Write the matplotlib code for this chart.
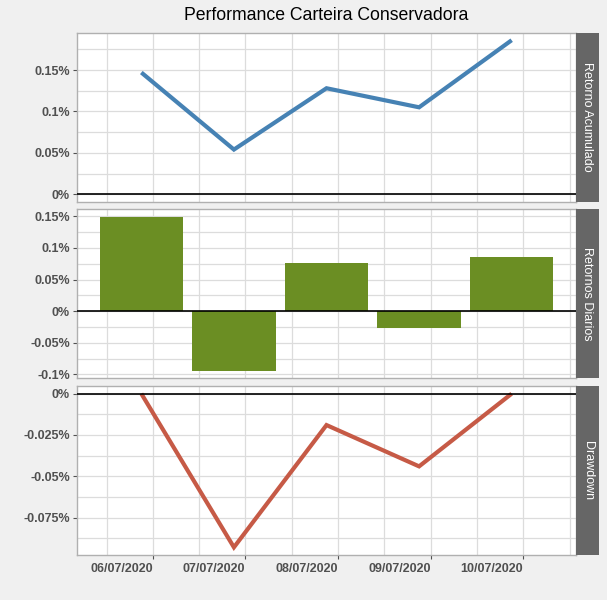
import matplotlib
matplotlib.use("Agg")
import matplotlib.pyplot as plt
import matplotlib.dates as mdates
from matplotlib.ticker import MultipleLocator, FuncFormatter
from datetime import datetime, timedelta

# ---- data ----
dates = ["2020-07-05 21:00", "2020-07-06 21:00", "2020-07-07 21:00",
         "2020-07-08 21:00", "2020-07-09 21:00"]
tick_dates = ["2020-07-06", "2020-07-07", "2020-07-08", "2020-07-09", "2020-07-10"]
tick_labels = ["06/07/2020", "07/07/2020", "08/07/2020", "09/07/2020", "10/07/2020"]
retorno_acumulado = [0.147, 0.054, 0.128, 0.105, 0.186]
retornos_diarios = [0.149, -0.094, 0.077, -0.026, 0.085]
drawdown = [0.0, -0.093, -0.019, -0.044, 0.0]
panel_names = ["Retorno Acumulado", "Retornos Diarios", "Drawdown"]
title = "Performance Carteira Conservadora"

plt.rcParams['font.family'] = ['Liberation Sans', 'DejaVu Sans']

W, H = 607, 600
fig = plt.figure(figsize=(W / 100, H / 100), dpi=100, facecolor="#F0F0F0")

x = [mdates.date2num(datetime.strptime(d, "%Y-%m-%d %H:%M")) for d in dates]
xt = [mdates.date2num(datetime.strptime(d, "%Y-%m-%d")) for d in tick_dates]
bar_w = 0.9
lo, hi = min(x) - bar_w / 2, max(x) + bar_w / 2
pad = 0.05 * (hi - lo)
xlim = (lo - pad, hi + pad)

left, right = 77, 576
strip_w = 23
panels_px = [(32.5, 202), (209.3, 378.3), (386, 555)]

grid_c = "#DCDCDC"
border_c = "#B0B0B0"
tick_c = "#505050"

def fmt(v, pos):
    s = f"{round(v, 4):g}"
    if s == "-0":
        s = "0"
    return s + "%"

axes = []
for i, (t, b) in enumerate(panels_px):
    ax = fig.add_axes([left / W, 1 - b / H, (right - left) / W, (b - t) / H])
    ax.set_facecolor("white")
    axes.append(ax)
    # strip
    sax = fig.add_axes([right / W, 1 - b / H, strip_w / W, (b - t) / H])
    sax.set_facecolor("#666666")
    sax.set_xticks([]); sax.set_yticks([])
    for s in sax.spines.values():
        s.set_visible(False)
    sax.text(0.5, 0.5, panel_names[i], rotation=-90, color="white",
             ha="center", va="center", fontsize=9, transform=sax.transAxes)

data = [retorno_acumulado, retornos_diarios, drawdown]
steps = [0.05, 0.05, 0.025]
for i, ax in enumerate(axes):
    vals = data[i]
    if i == 0:
        ax.plot(x, vals, color="#4682B4", lw=3.0, solid_capstyle="butt",
                solid_joinstyle="miter", zorder=3)
    elif i == 1:
        ax.bar(x, vals, width=bar_w, color="#6B8E23", zorder=2)
    else:
        ax.plot(x, vals, color="#C65A46", lw=3.0, solid_capstyle="butt",
                solid_joinstyle="miter", zorder=3)
    ax.axhline(0, color="black", lw=1.2, zorder=4)
    vmin, vmax = min(min(vals), 0), max(max(vals), 0)
    p = 0.05 * (vmax - vmin)
    ax.set_ylim(vmin - p, vmax + p)
    ax.set_xlim(*xlim)
    ax.yaxis.set_major_locator(MultipleLocator(steps[i]))
    ax.yaxis.set_minor_locator(MultipleLocator(steps[i] / 2))
    ax.yaxis.set_major_formatter(FuncFormatter(fmt))
    ax.set_xticks(xt)
    ax.set_xticks([v + 0.5 for v in [xt[0] - 1] + xt], minor=True)
    ax.grid(True, which="both", color=grid_c, lw=0.9, zorder=0)
    ax.set_axisbelow(True)
    for s in ax.spines.values():
        s.set_color(border_c)
        s.set_linewidth(1.0)
    ax.tick_params(axis="both", which="major", length=3, width=0.8,
                   color=tick_c, labelsize=9, labelcolor=tick_c, pad=2)
    ax.tick_params(axis="both", which="minor", length=0)
    for lab in ax.get_yticklabels():
        lab.set_fontweight("bold")
    if i < 2:
        ax.set_xticklabels([])
        ax.tick_params(axis="x", which="major", length=0)
    else:
        ax.set_xticklabels(tick_labels, fontweight="bold", ha="right")
        ax.tick_params(axis="x", pad=3)

fig.text((left + right) / 2 / W, 1 - 16 / H, title, ha="center", va="center",
         fontsize=12.7, color="black")

fig.savefig("out.png", dpi=100, facecolor=fig.get_facecolor())
